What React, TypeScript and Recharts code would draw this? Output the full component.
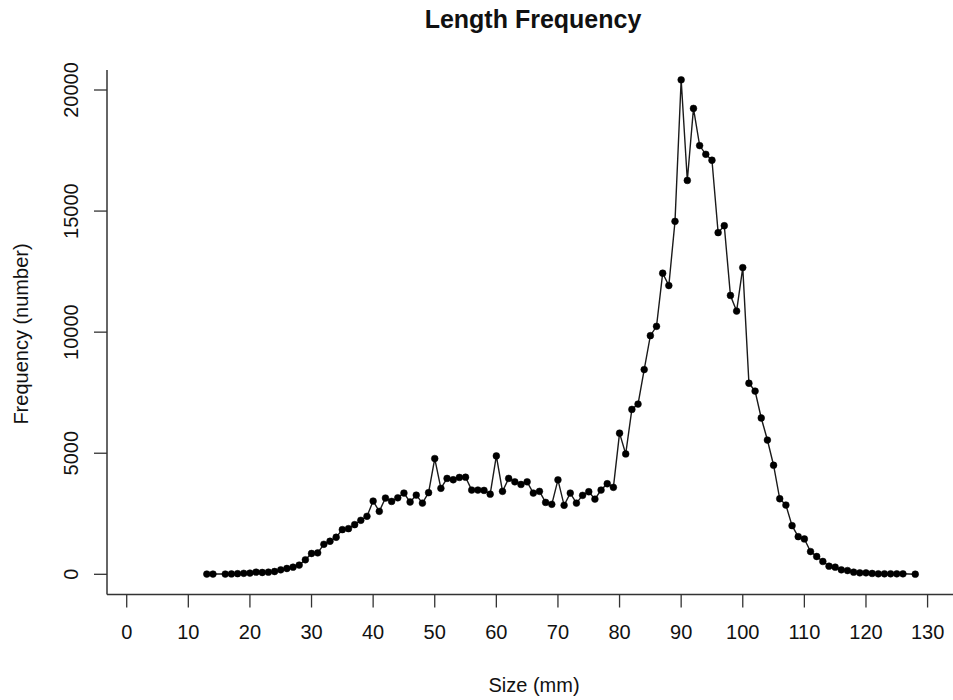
import { LineChart, Line, XAxis, YAxis } from "recharts";

// size classes (mm) — 15 and 127 have no observation
const sizes = [
  13, 14, 16, 17, 18, 19, 20, 21, 22, 23, 24, 25, 26, 27, 28, 29, 30, 31, 32, 33,
  34, 35, 36, 37, 38, 39, 40, 41, 42, 43, 44, 45, 46, 47, 48, 49, 50, 51, 52, 53,
  54, 55, 56, 57, 58, 59, 60, 61, 62, 63, 64, 65, 66, 67, 68, 69, 70, 71, 72, 73,
  74, 75, 76, 77, 78, 79, 80, 81, 82, 83, 84, 85, 86, 87, 88, 89, 90, 91, 92, 93,
  94, 95, 96, 97, 98, 99, 100, 101, 102, 103, 104, 105, 106, 107, 108, 109, 110,
  111, 112, 113, 114, 115, 116, 117, 118, 119, 120, 121, 122, 123, 124, 125, 126,
  128,
];

const frequency = [
  10, 10, 10, 15, 25, 40, 50, 90, 75, 90, 115, 185, 240, 295, 380, 600, 860, 885,
  1240, 1365, 1530, 1845, 1885, 2050, 2230, 2395, 3025, 2600, 3150, 3010, 3160,
  3355, 2985, 3270, 2940, 3370, 4780, 3550, 3960, 3905, 4000, 4010, 3480, 3480,
  3465, 3310, 4890, 3425, 3960, 3820, 3710, 3820, 3355, 3425, 2970, 2890, 3900,
  2850, 3355, 2940, 3260, 3410, 3105, 3480, 3740, 3590, 5830, 4970, 6810, 7030,
  8455, 9855, 10240, 12435, 11925, 14575, 20420, 16265, 19240, 17705, 17345, 17100,
  14110, 14395, 11515, 10870, 12665, 7890, 7565, 6455, 5545, 4505, 3120, 2860,
  2010, 1555, 1460, 940, 735, 530, 335, 295, 185, 155, 90, 60, 60, 35, 20, 20, 20,
  20, 20, 5,
];

const xTicks = [0, 10, 20, 30, 40, 50, 60, 70, 80, 90, 100, 110, 120, 130];
const yTicks = [0, 5000, 10000, 15000, 20000];

const data = sizes.map((s, i) => ({ size: s, freq: frequency[i] }));

const FONT = "'Liberation Sans', Arial, Helvetica, sans-serif";
const INK = "#1a1a1a";

const YTick = ({ y, payload }: any) => (
  <text
    x={78}
    y={y}
    transform={`rotate(-90, 78, ${y})`}
    textAnchor="middle"
    fontFamily={FONT}
    fontSize={20}
    fill="#111"
  >
    {payload.value}
  </text>
);

const YTitle = () => (
  <text
    x={28}
    y={334}
    transform="rotate(-90, 28, 334)"
    textAnchor="middle"
    fontFamily={FONT}
    fontSize={20}
    fill="#111"
  >
    Frequency (number)
  </text>
);

const XTitle = () => (
  <text x={534} y={692} textAnchor="middle" fontFamily={FONT} fontSize={20} fill="#111">
    Size (mm)
  </text>
);

export default function App() {
  return (
    <div style={{ position: "absolute", left: 0, top: 0, width: 953, height: 700, background: "#fff" }}>
      <div
        style={{
          position: "absolute",
          left: 533,
          top: 7,
          transform: "translateX(-50%)",
          whiteSpace: "nowrap",
          fontFamily: FONT,
          fontWeight: "bold",
          fontSize: 25,
          lineHeight: "25px",
          color: "#111",
        }}
      >
        Length Frequency
      </div>
      <LineChart
        width={953}
        height={700}
        data={data}
        margin={{ top: 70, right: -6, bottom: 0, left: 0 }}
      >
        <XAxis
          xAxisId="top"
          orientation="top"
          dataKey="size"
          type="number"
          domain={[-3.2, 135.1]}
          allowDataOverflow
          height={0}
          tick={false}
          tickLine={false}
          axisLine={{ stroke: "#333", strokeWidth: 1.5 }}
        />
        <XAxis
          dataKey="size"
          type="number"
          domain={[-3.2, 135.1]}
          allowDataOverflow
          ticks={xTicks}
          interval={0}
          height={105.5}
          tickSize={13}
          tickMargin={17}
          axisLine={{ stroke: "#333", strokeWidth: 1.5 }}
          tickLine={{ stroke: "#333", strokeWidth: 1.3 }}
          tick={{ fontFamily: FONT, fontSize: 20, fill: "#111" }}
          label={<XTitle />}
        />
        <YAxis
          dataKey="freq"
          type="number"
          domain={[-834, 20826]}
          allowDataOverflow
          ticks={yTicks}
          interval={0}
          width={107}
          tickSize={13}
          axisLine={{ stroke: "#333", strokeWidth: 1.5 }}
          tickLine={{ stroke: "#333", strokeWidth: 1.3 }}
          tick={<YTick />}
          label={<YTitle />}
        />
        <Line
          xAxisId={0}
          dataKey="freq"
          type="linear"
          stroke={INK}
          strokeWidth={1.4}
          dot={{ r: 3.4, fill: "#000", stroke: "#000", strokeWidth: 0.5 }}
          activeDot={false}
          isAnimationActive={false}
        />
      </LineChart>
    </div>
  );
}
